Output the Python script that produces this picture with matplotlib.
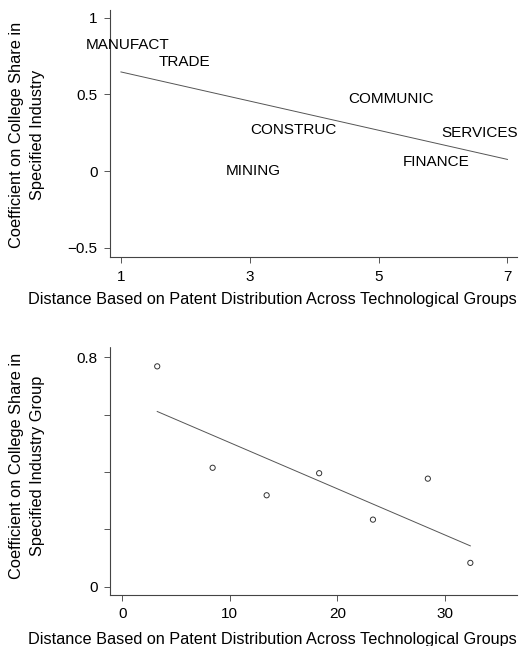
import numpy as np
import matplotlib
matplotlib.use("Agg")
import matplotlib.pyplot as plt

plt.rcParams['font.family'] = ['Liberation Sans', 'DejaVu Sans']

# Top panel: industries
industries = ["MANUFACT", "TRADE", "COMMUNIC", "CONSTRUC", "SERVICES", "FINANCE", "MINING"]
ind_dist = [1.11, 1.98, 5.2, 3.67, 6.57, 5.9, 3.05]
ind_coef = [0.82, 0.71, 0.47, 0.27, 0.25, 0.06, 0.0]
ind_fit_range = [1.0, 7.0]
top_xticks = [1, 3, 5, 7]
top_yticks = [-0.5, 0, 0.5, 1]
top_yticklabels = ["\u22120.5", "0", "0.5", "1"]

# Bottom panel: industry groups
grp_dist = [3.25, 8.4, 13.42, 18.3, 23.3, 28.4, 32.35]
grp_coef = [0.769, 0.415, 0.319, 0.396, 0.234, 0.377, 0.083]
bot_xticks = [0, 10, 20, 30]
bot_yticks = [0, 0.2, 0.4, 0.6, 0.8]
bot_yticklabels = ["0", "", "", "", "0.8"]

xlabel = "Distance Based on Patent Distribution Across Technological Groups"
top_ylabel = "Coefficient on College Share in\nSpecified Industry"
bot_ylabel = "Coefficient on College Share in\nSpecified Industry Group"

fig = plt.figure(figsize=(5.2, 6.46), dpi=100)
ax1 = fig.add_axes([0.2115, 0.602, 0.783, 0.3825])
ax2 = fig.add_axes([0.2115, 0.079, 0.783, 0.3845])

def style(ax):
    for s in ["top", "right"]:
        ax.spines[s].set_visible(False)
    for s in ["left", "bottom"]:
        ax.spines[s].set_color("#444444")
        ax.spines[s].set_linewidth(0.8)
        ax.spines[s].set_linestyle((0, (1, 1)))
    ax.tick_params(direction="out", length=4, width=0.7, color="#555555",
                   labelsize=11, pad=5)

def labels(ax, ylab, ycenter, xlab_y):
    ax.set_xlabel(xlabel, fontsize=11.7)
    ax.xaxis.set_label_coords(0.4, xlab_y)
    ax.set_ylabel(ylab, fontsize=11.8, linespacing=1.45)
    ax.yaxis.label.set_va("center")
    ax.yaxis.set_label_coords(-0.204, ycenter)

# top
style(ax1)
for name, x, y in zip(industries, ind_dist, ind_coef):
    ax1.text(x, y, name, ha="center", va="center", fontsize=11, color="black")
b1 = np.polyfit(ind_dist, ind_coef, 1)
fx = np.array(ind_fit_range)
ax1.plot(fx, np.polyval(b1, fx), color="#555555", lw=0.7)
ax1.set_xlim(0.83, 7.15)
ax1.set_ylim(-0.56, 1.05)
ax1.set_xticks(top_xticks)
ax1.set_yticks(top_yticks)
ax1.set_yticklabels(top_yticklabels)
labels(ax1, top_ylabel, 0.496, -0.14)

# bottom
style(ax2)
ax2.scatter(grp_dist, grp_coef, s=14, facecolors="none", edgecolors="#333333", linewidths=0.7)
b2 = np.polyfit(grp_dist, grp_coef, 1)
gx = np.array([min(grp_dist), max(grp_dist)])
ax2.plot(gx, np.polyval(b2, gx), color="#555555", lw=0.7)
ax2.set_xlim(-1.14, 36.7)
ax2.set_ylim(-0.029, 0.838)
ax2.set_xticks(bot_xticks)
ax2.set_yticks(bot_yticks)
ax2.set_yticklabels(bot_yticklabels)
labels(ax2, bot_ylabel, 0.52, -0.148)

fig.savefig("out.png", dpi=100)
